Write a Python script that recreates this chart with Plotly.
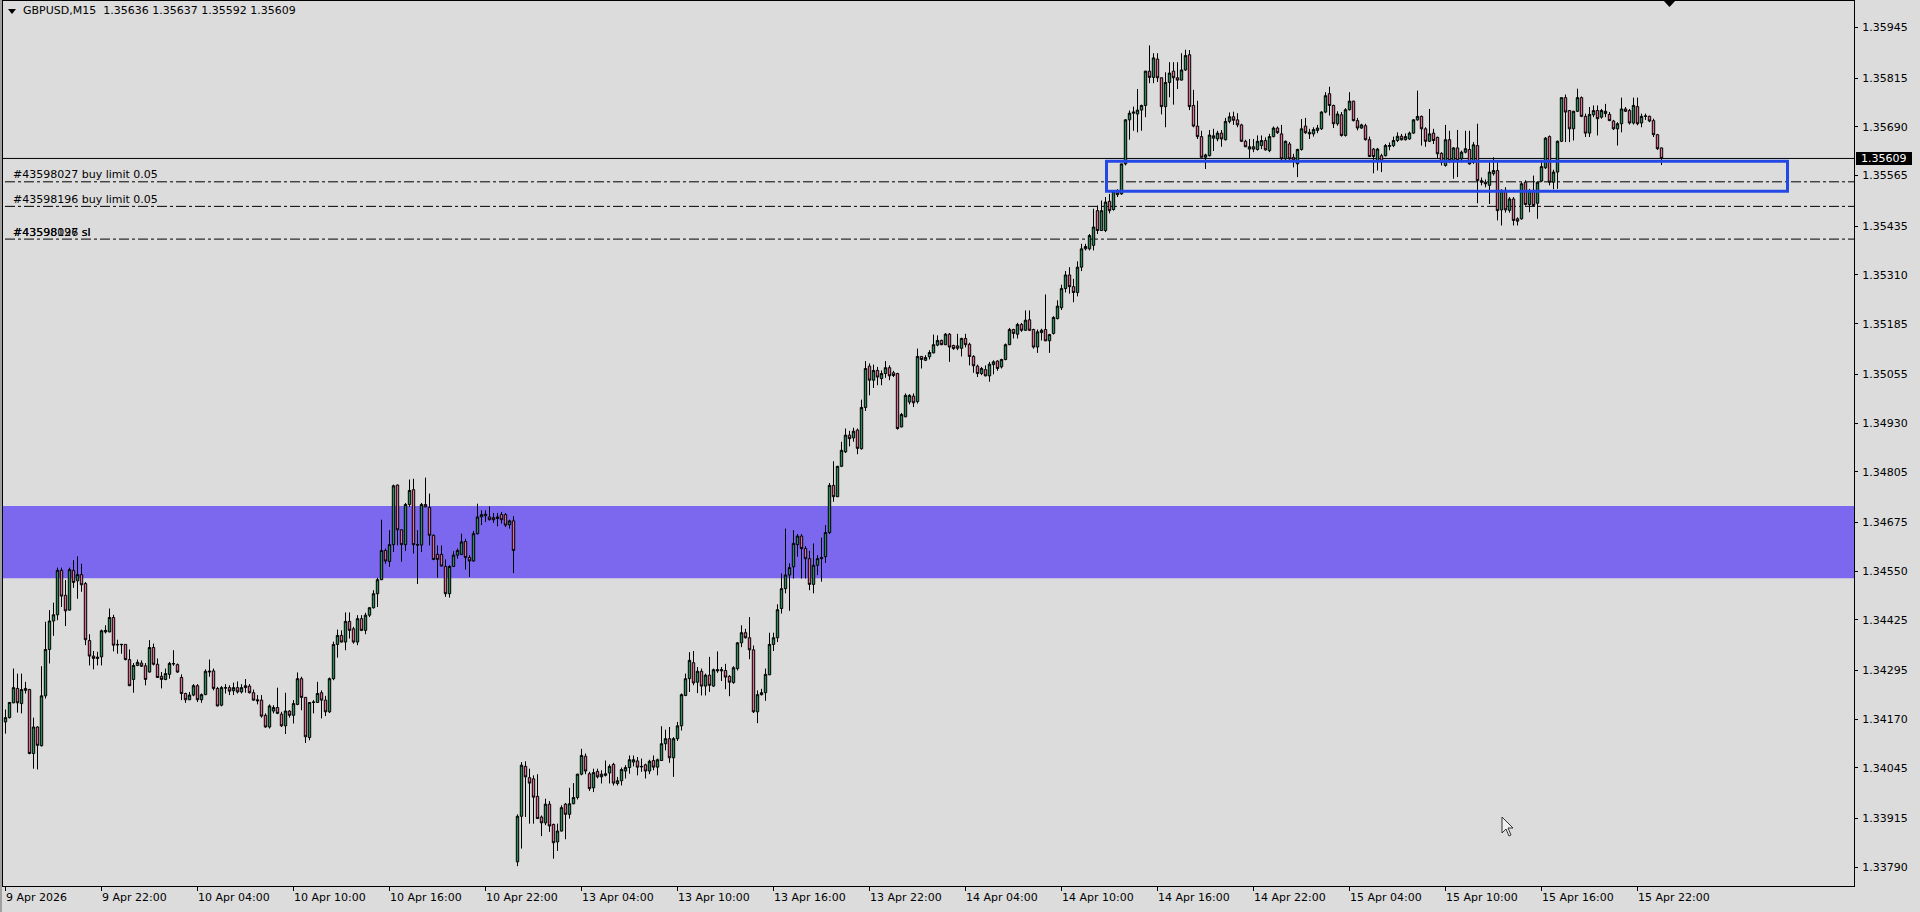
import plotly.graph_objects as go

# ---------------- data (GBPUSD M15, bars from 9 Apr 16:00 to 15 Apr 23:30) ----------------
bar_open = [
    1.34163, 1.34174, 1.34212, 1.34249, 1.34210, 1.34249, 1.34246, 1.34082, 1.34150, 1.34102,
    1.34230, 1.34349, 1.34422, 1.34438, 1.34552, 1.34488, 1.34450, 1.34552, 1.34525, 1.34541,
    1.34518, 1.34372, 1.34332, 1.34326, 1.34330, 1.34394, 1.34394, 1.34431, 1.34362, 1.34361,
    1.34362, 1.34323, 1.34272, 1.34308, 1.34314, 1.34307, 1.34291, 1.34354, 1.34311, 1.34280,
    1.34272, 1.34285, 1.34313, 1.34310, 1.34277, 1.34236, 1.34220, 1.34232, 1.34256, 1.34220,
    1.34233, 1.34291, 1.34294, 1.34249, 1.34206, 1.34251, 1.34251, 1.34243, 1.34251, 1.34240,
    1.34251, 1.34255, 1.34238, 1.34220, 1.34219, 1.34180, 1.34150, 1.34191, 1.34200, 1.34183,
    1.34153, 1.34191, 1.34180, 1.34208, 1.34274, 1.34226, 1.34123, 1.34213, 1.34213, 1.34238,
    1.34219, 1.34189, 1.34274, 1.34362, 1.34385, 1.34368, 1.34421, 1.34402, 1.34368, 1.34428,
    1.34398, 1.34437, 1.34456, 1.34492, 1.34528, 1.34603, 1.34575, 1.34618, 1.34771, 1.34656,
    1.34618, 1.34721, 1.34759, 1.34618, 1.34617, 1.34721, 1.34713, 1.34642, 1.34593, 1.34593,
    1.34562, 1.34492, 1.34562, 1.34591, 1.34593, 1.34626, 1.34585, 1.34576, 1.34646, 1.34689,
    1.34692, 1.34689, 1.34687, 1.34685, 1.34695, 1.34695, 1.34669, 1.34679,
    1.33804, 1.33921, 1.34049, 1.34020, 1.34017, 1.33972, 1.33919, 1.33904, 1.33952, 1.33900,
    1.33855, 1.33883, 1.33952, 1.33926, 1.33953, 1.33969, 1.34029, 1.34075, 1.34030, 1.33994,
    1.34036, 1.34022, 1.34026, 1.34032, 1.34054, 1.34005, 1.34012, 1.34037, 1.34046, 1.34060,
    1.34063, 1.34049, 1.34053, 1.34037, 1.34064, 1.34047, 1.34064, 1.34107, 1.34120, 1.34071,
    1.34120, 1.34153, 1.34231, 1.34274, 1.34315, 1.34265, 1.34293, 1.34255, 1.34283, 1.34255,
    1.34294, 1.34294, 1.34295, 1.34280, 1.34264, 1.34300, 1.34366, 1.34392, 1.34379, 1.34348,
    1.34189, 1.34233, 1.34238, 1.34284, 1.34362, 1.34379, 1.34454, 1.34505, 1.34540, 1.34561,
    1.34618, 1.34640, 1.34608, 1.34582, 1.34516, 1.34565, 1.34582, 1.34587, 1.34649, 1.34770,
    1.34741, 1.34819, 1.34856, 1.34899, 1.34892, 1.34912, 1.34864, 1.34970, 1.35076, 1.35040,
    1.35065, 1.35044, 1.35057, 1.35072, 1.35059, 1.35057, 1.34920, 1.34946, 1.34984, 1.34999,
    1.34985, 1.35101, 1.35091, 1.35100, 1.35110, 1.35130, 1.35142, 1.35131, 1.35158, 1.35129,
    1.35128, 1.35122, 1.35147, 1.35132, 1.35101, 1.35076, 1.35057, 1.35067, 1.35051, 1.35080,
    1.35089, 1.35074, 1.35093, 1.35131, 1.35170, 1.35158, 1.35183, 1.35168, 1.35195, 1.35170,
    1.35125, 1.35162, 1.35170, 1.35141, 1.35160, 1.35198, 1.35226, 1.35275, 1.35310, 1.35280,
    1.35265, 1.35330, 1.35377, 1.35377, 1.35386, 1.35475, 1.35424, 1.35424, 1.35499, 1.35478,
    1.35524, 1.35518, 1.35595, 1.35708, 1.35725, 1.35723, 1.35733, 1.35745, 1.35833, 1.35817,
    1.35864, 1.35816, 1.35742, 1.35804, 1.35833, 1.35816, 1.35810, 1.35836, 1.35875, 1.35745,
    1.35692, 1.35665, 1.35612, 1.35616, 1.35661, 1.35659, 1.35674, 1.35657, 1.35704, 1.35716,
    1.35708, 1.35695, 1.35653, 1.35633, 1.35639, 1.35632, 1.35642, 1.35655, 1.35629, 1.35665,
    1.35687, 1.35672, 1.35608, 1.35646, 1.35612, 1.35595, 1.35632, 1.35692, 1.35676, 1.35672,
    1.35681, 1.35685, 1.35728, 1.35775, 1.35745, 1.35698, 1.35721, 1.35668, 1.35734, 1.35756,
    1.35706, 1.35687, 1.35693, 1.35657, 1.35633, 1.35602, 1.35616, 1.35616, 1.35640, 1.35642,
    1.35655, 1.35666, 1.35657, 1.35659, 1.35674, 1.35708, 1.35717, 1.35685, 1.35653, 1.35674,
    1.35663, 1.35622, 1.35591, 1.35657, 1.35604, 1.35636, 1.35608, 1.35625, 1.35632, 1.35599,
    1.35642, 1.35552, 1.35548, 1.35540, 1.35570, 1.35578, 1.35477, 1.35527, 1.35476, 1.35505,
    1.35454, 1.35454, 1.35548, 1.35491, 1.35527, 1.35494, 1.35551, 1.35585, 1.35665, 1.35548,
    1.35574, 1.35653, 1.35765, 1.35732, 1.35685, 1.35730, 1.35765, 1.35717, 1.35674, 1.35721,
    1.35732, 1.35715, 1.35724, 1.35722, 1.35705, 1.35685, 1.35698, 1.35736, 1.35732, 1.35700,
    1.35742, 1.35700, 1.35717, 1.35717, 1.35706, 1.35670, 1.35636,
]
bar_high = [
    1.34195, 1.34214, 1.34300, 1.34287, 1.34287, 1.34266, 1.34248, 1.34174, 1.34152, 1.34306,
    1.34420, 1.34450, 1.34469, 1.34559, 1.34559, 1.34527, 1.34559, 1.34578, 1.34588, 1.34569,
    1.34522, 1.34388, 1.34345, 1.34343, 1.34400, 1.34411, 1.34454, 1.34438, 1.34374, 1.34363,
    1.34362, 1.34349, 1.34314, 1.34323, 1.34321, 1.34314, 1.34373, 1.34364, 1.34326, 1.34291,
    1.34300, 1.34317, 1.34347, 1.34313, 1.34285, 1.34238, 1.34240, 1.34260, 1.34260, 1.34236,
    1.34298, 1.34323, 1.34300, 1.34253, 1.34255, 1.34260, 1.34257, 1.34264, 1.34267, 1.34260,
    1.34273, 1.34260, 1.34246, 1.34232, 1.34232, 1.34185, 1.34208, 1.34206, 1.34251, 1.34189,
    1.34238, 1.34193, 1.34219, 1.34290, 1.34279, 1.34227, 1.34214, 1.34219, 1.34266, 1.34244,
    1.34230, 1.34277, 1.34369, 1.34400, 1.34398, 1.34444, 1.34444, 1.34407, 1.34437, 1.34437,
    1.34443, 1.34458, 1.34501, 1.34533, 1.34682, 1.34608, 1.34655, 1.34772, 1.34772, 1.34657,
    1.34725, 1.34785, 1.34787, 1.34655, 1.34725, 1.34790, 1.34749, 1.34644, 1.34616, 1.34616,
    1.34580, 1.34565, 1.34601, 1.34608, 1.34646, 1.34633, 1.34591, 1.34653, 1.34723, 1.34706,
    1.34706, 1.34716, 1.34699, 1.34699, 1.34702, 1.34699, 1.34682, 1.34691,
    1.33926, 1.34060, 1.34062, 1.34043, 1.34026, 1.34029, 1.33923, 1.33966, 1.33960, 1.33902,
    1.33902, 1.33949, 1.33955, 1.33994, 1.34006, 1.34030, 1.34094, 1.34082, 1.34035, 1.34043,
    1.34043, 1.34039, 1.34064, 1.34054, 1.34058, 1.34022, 1.34046, 1.34052, 1.34077, 1.34077,
    1.34073, 1.34069, 1.34056, 1.34066, 1.34077, 1.34069, 1.34152, 1.34143, 1.34150, 1.34124,
    1.34163, 1.34236, 1.34287, 1.34342, 1.34345, 1.34304, 1.34300, 1.34287, 1.34330, 1.34300,
    1.34344, 1.34304, 1.34312, 1.34283, 1.34306, 1.34368, 1.34411, 1.34402, 1.34432, 1.34359,
    1.34244, 1.34248, 1.34300, 1.34392, 1.34392, 1.34465, 1.34544, 1.34659, 1.34570, 1.34655,
    1.34645, 1.34645, 1.34614, 1.34602, 1.34621, 1.34591, 1.34636, 1.34668, 1.34776, 1.34832,
    1.34820, 1.34882, 1.34916, 1.34910, 1.34918, 1.34916, 1.34990, 1.35089, 1.35083, 1.35080,
    1.35074, 1.35065, 1.35089, 1.35078, 1.35064, 1.35059, 1.34956, 1.35006, 1.35004, 1.35006,
    1.35121, 1.35102, 1.35104, 1.35117, 1.35157, 1.35155, 1.35144, 1.35161, 1.35161, 1.35131,
    1.35159, 1.35149, 1.35159, 1.35136, 1.35104, 1.35080, 1.35074, 1.35078, 1.35087, 1.35091,
    1.35091, 1.35095, 1.35134, 1.35174, 1.35172, 1.35187, 1.35187, 1.35219, 1.35219, 1.35172,
    1.35170, 1.35172, 1.35260, 1.35159, 1.35204, 1.35245, 1.35285, 1.35320, 1.35330, 1.35300,
    1.35345, 1.35390, 1.35390, 1.35415, 1.35480, 1.35488, 1.35501, 1.35510, 1.35518, 1.35528,
    1.35530, 1.35596, 1.35710, 1.35732, 1.35742, 1.35787, 1.35747, 1.35834, 1.35899, 1.35879,
    1.35879, 1.35817, 1.35830, 1.35856, 1.35856, 1.35856, 1.35879, 1.35888, 1.35887, 1.35785,
    1.35757, 1.35680, 1.35621, 1.35682, 1.35685, 1.35680, 1.35682, 1.35713, 1.35727, 1.35729,
    1.35725, 1.35698, 1.35657, 1.35659, 1.35659, 1.35668, 1.35668, 1.35663, 1.35672, 1.35691,
    1.35691, 1.35695, 1.35655, 1.35651, 1.35621, 1.35634, 1.35710, 1.35713, 1.35685, 1.35689,
    1.35695, 1.35730, 1.35779, 1.35793, 1.35747, 1.35730, 1.35728, 1.35738, 1.35779, 1.35757,
    1.35713, 1.35698, 1.35698, 1.35665, 1.35636, 1.35636, 1.35621, 1.35646, 1.35650, 1.35665,
    1.35676, 1.35672, 1.35673, 1.35678, 1.35710, 1.35783, 1.35719, 1.35689, 1.35736, 1.35685,
    1.35665, 1.35625, 1.35695, 1.35680, 1.35638, 1.35682, 1.35629, 1.35680, 1.35680, 1.35651,
    1.35698, 1.35560, 1.35555, 1.35599, 1.35612, 1.35599, 1.35530, 1.35535, 1.35510, 1.35510,
    1.35458, 1.35548, 1.35553, 1.35531, 1.35565, 1.35550, 1.35604, 1.35664, 1.35668, 1.35580,
    1.35655, 1.35766, 1.35773, 1.35732, 1.35731, 1.35788, 1.35768, 1.35724, 1.35741, 1.35745,
    1.35745, 1.35736, 1.35749, 1.35728, 1.35708, 1.35702, 1.35765, 1.35741, 1.35736, 1.35765,
    1.35765, 1.35724, 1.35724, 1.35719, 1.35711, 1.35672, 1.35637,
]
bar_low = [
    1.34133, 1.34172, 1.34211, 1.34187, 1.34185, 1.34236, 1.34080, 1.34043, 1.34041, 1.34100,
    1.34223, 1.34313, 1.34384, 1.34424, 1.34458, 1.34409, 1.34449, 1.34507, 1.34479, 1.34497,
    1.34360, 1.34308, 1.34298, 1.34308, 1.34308, 1.34390, 1.34393, 1.34344, 1.34338, 1.34338,
    1.34321, 1.34255, 1.34238, 1.34306, 1.34304, 1.34257, 1.34290, 1.34308, 1.34276, 1.34249,
    1.34270, 1.34274, 1.34307, 1.34289, 1.34219, 1.34212, 1.34219, 1.34229, 1.34214, 1.34212,
    1.34232, 1.34279, 1.34244, 1.34203, 1.34203, 1.34236, 1.34232, 1.34232, 1.34236, 1.34236,
    1.34238, 1.34236, 1.34217, 1.34208, 1.34174, 1.34148, 1.34146, 1.34185, 1.34183, 1.34150,
    1.34132, 1.34174, 1.34159, 1.34206, 1.34193, 1.34109, 1.34116, 1.34185, 1.34212, 1.34172,
    1.34178, 1.34186, 1.34270, 1.34328, 1.34367, 1.34347, 1.34377, 1.34364, 1.34360, 1.34396,
    1.34388, 1.34432, 1.34454, 1.34458, 1.34527, 1.34569, 1.34561, 1.34599, 1.34616, 1.34574,
    1.34602, 1.34715, 1.34595, 1.34517, 1.34599, 1.34714, 1.34616, 1.34578, 1.34533, 1.34562,
    1.34484, 1.34482, 1.34561, 1.34582, 1.34591, 1.34554, 1.34535, 1.34574, 1.34644, 1.34668,
    1.34676, 1.34680, 1.34674, 1.34665, 1.34672, 1.34663, 1.34659, 1.34545,
    1.33793, 1.33838, 1.33919, 1.33902, 1.33902, 1.33914, 1.33870, 1.33898, 1.33881, 1.33812,
    1.33832, 1.33882, 1.33862, 1.33915, 1.33952, 1.33964, 1.34026, 1.34029, 1.33986, 1.33983,
    1.34018, 1.34005, 1.34023, 1.34005, 1.34000, 1.34000, 1.34000, 1.34018, 1.34030, 1.34049,
    1.34026, 1.34035, 1.34018, 1.34029, 1.34039, 1.34026, 1.34063, 1.34090, 1.34058, 1.34022,
    1.34114, 1.34141, 1.34229, 1.34240, 1.34257, 1.34237, 1.34231, 1.34231, 1.34240, 1.34253,
    1.34289, 1.34268, 1.34247, 1.34229, 1.34261, 1.34295, 1.34355, 1.34377, 1.34324, 1.34186,
    1.34160, 1.34231, 1.34217, 1.34283, 1.34345, 1.34368, 1.34441, 1.34493, 1.34448, 1.34531,
    1.34587, 1.34531, 1.34531, 1.34501, 1.34493, 1.34540, 1.34523, 1.34571, 1.34645, 1.34728,
    1.34740, 1.34817, 1.34853, 1.34870, 1.34882, 1.34850, 1.34862, 1.34961, 1.35001, 1.35020,
    1.35027, 1.35027, 1.35046, 1.35040, 1.35048, 1.34913, 1.34919, 1.34945, 1.34978, 1.34971,
    1.34980, 1.35070, 1.35089, 1.35093, 1.35109, 1.35127, 1.35130, 1.35130, 1.35087, 1.35118,
    1.35117, 1.35101, 1.35124, 1.35078, 1.35059, 1.35048, 1.35053, 1.35050, 1.35036, 1.35055,
    1.35064, 1.35070, 1.35091, 1.35130, 1.35147, 1.35147, 1.35164, 1.35167, 1.35166, 1.35121,
    1.35110, 1.35142, 1.35140, 1.35110, 1.35157, 1.35196, 1.35220, 1.35265, 1.35262, 1.35240,
    1.35255, 1.35320, 1.35373, 1.35373, 1.35373, 1.35415, 1.35423, 1.35420, 1.35468, 1.35475,
    1.35510, 1.35516, 1.35591, 1.35657, 1.35680, 1.35676, 1.35680, 1.35715, 1.35802, 1.35802,
    1.35805, 1.35722, 1.35689, 1.35766, 1.35747, 1.35787, 1.35809, 1.35834, 1.35733, 1.35689,
    1.35659, 1.35611, 1.35582, 1.35614, 1.35628, 1.35653, 1.35639, 1.35655, 1.35699, 1.35695,
    1.35689, 1.35651, 1.35638, 1.35608, 1.35625, 1.35629, 1.35633, 1.35629, 1.35625, 1.35663,
    1.35672, 1.35605, 1.35604, 1.35604, 1.35586, 1.35561, 1.35629, 1.35672, 1.35659, 1.35665,
    1.35674, 1.35682, 1.35725, 1.35719, 1.35687, 1.35693, 1.35665, 1.35665, 1.35732, 1.35704,
    1.35681, 1.35685, 1.35655, 1.35613, 1.35571, 1.35578, 1.35574, 1.35614, 1.35630, 1.35638,
    1.35651, 1.35655, 1.35655, 1.35657, 1.35672, 1.35706, 1.35642, 1.35639, 1.35651, 1.35646,
    1.35608, 1.35591, 1.35588, 1.35597, 1.35557, 1.35561, 1.35599, 1.35622, 1.35593, 1.35595,
    1.35494, 1.35540, 1.35535, 1.35492, 1.35565, 1.35450, 1.35437, 1.35470, 1.35470, 1.35437,
    1.35437, 1.35452, 1.35488, 1.35471, 1.35486, 1.35454, 1.35548, 1.35582, 1.35540, 1.35530,
    1.35531, 1.35651, 1.35651, 1.35651, 1.35655, 1.35728, 1.35715, 1.35664, 1.35664, 1.35715,
    1.35668, 1.35711, 1.35715, 1.35705, 1.35682, 1.35642, 1.35676, 1.35728, 1.35696, 1.35696,
    1.35694, 1.35689, 1.35708, 1.35702, 1.35664, 1.35631, 1.35592,
]
bar_close = [
    1.34174, 1.34213, 1.34251, 1.34212, 1.34246, 1.34244, 1.34082, 1.34150, 1.34103, 1.34230,
    1.34349, 1.34422, 1.34438, 1.34552, 1.34486, 1.34448, 1.34554, 1.34521, 1.34541, 1.34515,
    1.34374, 1.34332, 1.34326, 1.34329, 1.34397, 1.34398, 1.34431, 1.34360, 1.34361, 1.34362,
    1.34323, 1.34256, 1.34308, 1.34316, 1.34306, 1.34272, 1.34354, 1.34311, 1.34277, 1.34272,
    1.34287, 1.34313, 1.34312, 1.34291, 1.34236, 1.34220, 1.34232, 1.34256, 1.34220, 1.34233,
    1.34293, 1.34293, 1.34249, 1.34204, 1.34251, 1.34250, 1.34242, 1.34251, 1.34240, 1.34251,
    1.34256, 1.34238, 1.34219, 1.34217, 1.34178, 1.34150, 1.34204, 1.34200, 1.34185, 1.34153,
    1.34191, 1.34180, 1.34210, 1.34274, 1.34226, 1.34125, 1.34213, 1.34214, 1.34236, 1.34219,
    1.34189, 1.34274, 1.34362, 1.34385, 1.34368, 1.34421, 1.34398, 1.34368, 1.34428, 1.34398,
    1.34437, 1.34456, 1.34492, 1.34528, 1.34603, 1.34576, 1.34618, 1.34769, 1.34656, 1.34618,
    1.34721, 1.34757, 1.34618, 1.34617, 1.34721, 1.34715, 1.34642, 1.34580, 1.34580, 1.34563,
    1.34492, 1.34562, 1.34591, 1.34603, 1.34625, 1.34585, 1.34576, 1.34646, 1.34689, 1.34695,
    1.34696, 1.34682, 1.34682, 1.34689, 1.34682, 1.34668, 1.34679, 1.34603,
    1.33921, 1.34052, 1.34022, 1.34006, 1.33970, 1.33915, 1.33904, 1.33952, 1.33896, 1.33853,
    1.33883, 1.33943, 1.33926, 1.33953, 1.33969, 1.34029, 1.34077, 1.34037, 1.33992, 1.34033,
    1.34022, 1.34029, 1.34030, 1.34049, 1.34006, 1.34012, 1.34041, 1.34046, 1.34066, 1.34066,
    1.34047, 1.34048, 1.34037, 1.34062, 1.34047, 1.34066, 1.34107, 1.34120, 1.34071, 1.34120,
    1.34153, 1.34233, 1.34274, 1.34321, 1.34263, 1.34293, 1.34255, 1.34283, 1.34257, 1.34297,
    1.34297, 1.34297, 1.34278, 1.34265, 1.34302, 1.34366, 1.34392, 1.34379, 1.34348, 1.34189,
    1.34233, 1.34238, 1.34285, 1.34362, 1.34379, 1.34451, 1.34505, 1.34540, 1.34559, 1.34621,
    1.34640, 1.34608, 1.34582, 1.34516, 1.34565, 1.34582, 1.34585, 1.34649, 1.34770, 1.34741,
    1.34819, 1.34860, 1.34899, 1.34890, 1.34909, 1.34865, 1.34970, 1.35070, 1.35040, 1.35065,
    1.35048, 1.35057, 1.35072, 1.35051, 1.35052, 1.34916, 1.34952, 1.35001, 1.35001, 1.34982,
    1.35101, 1.35093, 1.35098, 1.35111, 1.35131, 1.35142, 1.35131, 1.35158, 1.35125, 1.35121,
    1.35122, 1.35147, 1.35131, 1.35101, 1.35077, 1.35057, 1.35070, 1.35051, 1.35081, 1.35087,
    1.35070, 1.35093, 1.35131, 1.35170, 1.35160, 1.35183, 1.35168, 1.35194, 1.35168, 1.35125,
    1.35164, 1.35168, 1.35141, 1.35157, 1.35201, 1.35230, 1.35275, 1.35310, 1.35280, 1.35265,
    1.35330, 1.35377, 1.35383, 1.35411, 1.35433, 1.35424, 1.35475, 1.35497, 1.35475, 1.35524,
    1.35516, 1.35595, 1.35708, 1.35725, 1.35728, 1.35733, 1.35745, 1.35833, 1.35817, 1.35867,
    1.35816, 1.35742, 1.35804, 1.35828, 1.35816, 1.35810, 1.35836, 1.35873, 1.35742, 1.35692,
    1.35665, 1.35612, 1.35618, 1.35669, 1.35667, 1.35674, 1.35659, 1.35704, 1.35716, 1.35707,
    1.35695, 1.35653, 1.35639, 1.35639, 1.35633, 1.35653, 1.35655, 1.35631, 1.35665, 1.35687,
    1.35675, 1.35608, 1.35653, 1.35608, 1.35605, 1.35632, 1.35685, 1.35675, 1.35672, 1.35683,
    1.35687, 1.35728, 1.35770, 1.35745, 1.35698, 1.35723, 1.35668, 1.35734, 1.35756, 1.35706,
    1.35687, 1.35695, 1.35657, 1.35614, 1.35614, 1.35633, 1.35602, 1.35642, 1.35642, 1.35655,
    1.35666, 1.35657, 1.35665, 1.35674, 1.35708, 1.35717, 1.35685, 1.35653, 1.35672, 1.35655,
    1.35621, 1.35599, 1.35657, 1.35604, 1.35636, 1.35604, 1.35625, 1.35634, 1.35595, 1.35644,
    1.35552, 1.35548, 1.35544, 1.35574, 1.35578, 1.35475, 1.35527, 1.35477, 1.35505, 1.35450,
    1.35448, 1.35544, 1.35491, 1.35527, 1.35488, 1.35548, 1.35588, 1.35661, 1.35548, 1.35574,
    1.35653, 1.35765, 1.35728, 1.35685, 1.35730, 1.35765, 1.35717, 1.35674, 1.35722, 1.35732,
    1.35711, 1.35732, 1.35730, 1.35706, 1.35685, 1.35698, 1.35736, 1.35730, 1.35700, 1.35745,
    1.35698, 1.35717, 1.35718, 1.35705, 1.35670, 1.35634, 1.35609,
]
bar_index = list(range(len(bar_close)))

x_tick_bars = [0, 24, 48, 72, 96, 120, 144, 168, 192, 216, 240, 264, 288, 312, 336, 360, 384, 408]
x_tick_labels = ["9 Apr 2026", "9 Apr 22:00", "10 Apr 04:00", "10 Apr 10:00", "10 Apr 16:00",
                 "10 Apr 22:00", "13 Apr 04:00", "13 Apr 10:00", "13 Apr 16:00", "13 Apr 22:00",
                 "14 Apr 04:00", "14 Apr 10:00", "14 Apr 16:00", "14 Apr 22:00", "15 Apr 04:00",
                 "15 Apr 10:00", "15 Apr 16:00", "15 Apr 22:00"]
y_tick_values = [1.35945, 1.35815, 1.35690, 1.35565, 1.35435, 1.35310, 1.35185, 1.35055, 1.34930,
                 1.34805, 1.34675, 1.34550, 1.34425, 1.34295, 1.34170, 1.34045, 1.33915, 1.33790]

symbol_title = "GBPUSD,M15  1.35636 1.35637 1.35592 1.35609"
current_price = 1.35609
demand_zone = [1.34532, 1.34717]                 # price band (purple)
box_zone_bars = [275.25, 445.5]                  # blue rectangle, bar span
box_zone_prices = [1.35525, 1.35602]
order_levels = [1.35549, 1.35486, 1.35402, 1.35402]
order_labels = ["#43598027 buy limit 0.05", "#43598196 buy limit 0.05", "#43598027 sl", "#43598196 sl"]

# ---------------- layout helpers ----------------
W, H = 1920, 912
PL, PR, PT, PB = 3, 1854, 1, 886
Y_MIN, Y_MAX = 1.33742, 1.36013
X_MIN, X_MAX = -0.625, 462.125
FONT = "DejaVu Sans"


def px_x(px):
    return (px - PL) / (PR - PL)


def px_y(py):
    return (PB - py) / (PB - PT)


fig = go.Figure()
fig.add_trace(go.Candlestick(
    x=bar_index, open=bar_open, high=bar_high, low=bar_low, close=bar_close,
    increasing=dict(line=dict(color="black", width=1), fillcolor="#2e8b57"),
    decreasing=dict(line=dict(color="black", width=1), fillcolor="#db7093"),
    whiskerwidth=0, showlegend=False, hoverinfo="skip",
))

shapes = []
# purple zone (background)
shapes.append(dict(type="rect", xref="paper", yref="y", x0=0, x1=1,
                   y0=demand_zone[0], y1=demand_zone[1],
                   fillcolor="#7b68ee", line=dict(width=0), layer="below"))
# current price line
shapes.append(dict(type="line", xref="paper", yref="y", x0=0, x1=1,
                   y0=current_price, y1=current_price,
                   line=dict(color="black", width=1), layer="below"))
# order levels (dash-dot)
for lv in sorted(set(order_levels)):
    shapes.append(dict(type="line", xref="paper", yref="y", x0=px_x(5), x1=1, y0=lv, y1=lv,
                       line=dict(color="black", width=1, dash="10px,3px,3px,3px"), layer="below"))
# blue rectangle
shapes.append(dict(type="rect", xref="x", yref="y",
                   x0=box_zone_bars[0], x1=box_zone_bars[1],
                   y0=box_zone_prices[0], y1=box_zone_prices[1],
                   line=dict(color="#2448e6", width=3), fillcolor="rgba(0,0,0,0)", layer="above"))
# price label box on axis
shapes.append(dict(type="rect", xref="paper", yref="paper",
                   x0=px_x(1856), x1=px_x(1912), y0=px_y(165), y1=px_y(152),
                   fillcolor="black", line=dict(width=0)))
# title triangle
shapes.append(dict(type="path", xref="paper", yref="paper",
                   path=f"M {px_x(8)},{px_y(9)} L {px_x(16)},{px_y(9)} L {px_x(12)},{px_y(14)} Z",
                   fillcolor="black", line=dict(width=0)))
# chart shift marker (top right)
shapes.append(dict(type="path", xref="paper", yref="paper",
                   path=f"M {px_x(1663)},{px_y(0)} L {px_x(1676)},{px_y(0)} L {px_x(1669.5)},{px_y(7)} Z",
                   fillcolor="black", line=dict(width=0)))
# window frame left
shapes.append(dict(type="line", xref="paper", yref="paper", x0=px_x(1), x1=px_x(1),
                   y0=px_y(0), y1=px_y(912), line=dict(color="#a0a0a0", width=2)))
# mouse cursor
cur = [(1502, 817), (1502, 833), (1506, 829), (1509, 836), (1511, 835), (1508, 828), (1513, 828)]
cur_path = "M " + " L ".join(f"{px_x(a)},{px_y(b)}" for a, b in cur) + " Z"
shapes.append(dict(type="path", xref="paper", yref="paper", path=cur_path,
                   fillcolor="#f0f0f0", line=dict(color="#333333", width=1)))

annotations = []
annotations.append(dict(xref="paper", yref="paper", x=px_x(21), y=px_y(10.5), xanchor="left",
                        yanchor="middle", text=symbol_title, showarrow=False,
                        font=dict(family=FONT, size=11, color="black")))
for lv, lab in zip(order_levels, order_labels):
    annotations.append(dict(xref="paper", yref="y", x=px_x(11), y=lv, xanchor="left",
                            yanchor="middle", yshift=7, text=lab, showarrow=False,
                            font=dict(family=FONT, size=11, color="black")))
for b, lab in zip(x_tick_bars, x_tick_labels):
    annotations.append(dict(xref="x", yref="paper", x=b - 0.375, y=0, xanchor="left",
                            yanchor="top", yshift=-3, text=lab, showarrow=False,
                            font=dict(family=FONT, size=11, color="black")))
annotations.append(dict(xref="paper", yref="paper", x=px_x(1859), y=px_y(158.5), xanchor="left",
                        yanchor="middle", text=f"{current_price:.5f}", showarrow=False,
                        font=dict(family=FONT, size=11, color="white")))

fig.update_layout(
    width=W, height=H,
    margin=dict(l=PL, r=W - PR, t=PT, b=H - PB, pad=0),
    paper_bgcolor="#dcdcdc", plot_bgcolor="#dcdcdc",
    font=dict(family=FONT, size=11, color="black"),
    boxgap=0.4, boxgroupgap=0,
    showlegend=False,
    xaxis=dict(range=[X_MIN, X_MAX], rangeslider=dict(visible=False), showgrid=False, zeroline=False,
               tickmode="array", tickvals=x_tick_bars, ticks="outside", ticklen=4, tickcolor="black",
               showticklabels=False, showline=True, linecolor="black", linewidth=1, mirror=True,
               fixedrange=True),
    yaxis=dict(range=[Y_MIN, Y_MAX], side="right", showgrid=False, zeroline=False,
               tickmode="array", tickvals=y_tick_values, ticktext=[f"{v:.5f}" for v in y_tick_values],
               ticks="outside", ticklen=3, tickcolor="black", showline=True, linecolor="black",
               linewidth=1, mirror=True, tickfont=dict(family=FONT, size=11, color="black"),
               ticklabelstandoff=2, fixedrange=True),
    shapes=shapes, annotations=annotations,
)

fig.write_html("out.html", config={"displayModeBar": False},
               post_script="document.body.style.margin='0';document.body.style.overflow='hidden';")
